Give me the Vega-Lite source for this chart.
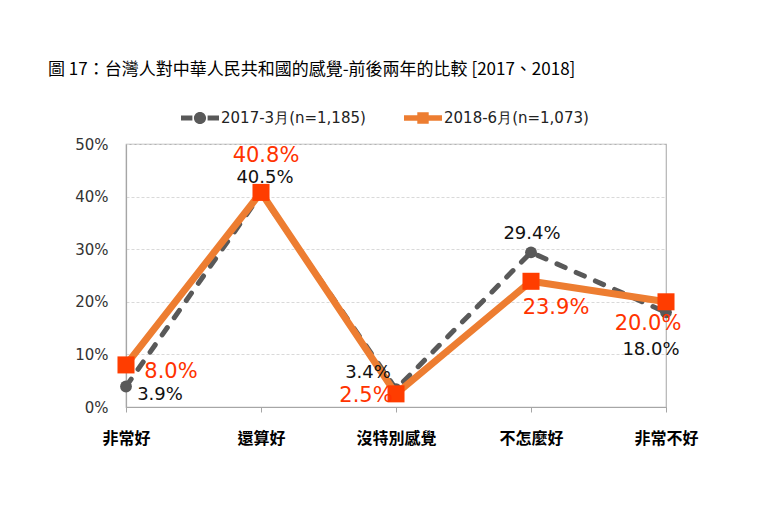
{
  "$schema": "https://vega.github.io/schema/vega-lite/v6.json",
  "width": 540,
  "height": 263,
  "autosize": {"type": "none"},
  "padding": {"left": 126, "top": 144, "right": 114, "bottom": 119},
  "background": "white",
  "title": {
    "text": "圖 17：台灣人對中華人民共和國的感覺-前後兩年的比較 [2017、2018]",
    "anchor": "start",
    "frame": "group",
    "orient": "top",
    "dx": -78,
    "offset": 20,
    "font": "Noto Sans CJK TC",
    "fontSize": 17,
    "fontWeight": "normal",
    "color": "#000000"
  },
  "config": {
    "font": "DejaVu Sans",
    "view": {"stroke": "#B4B4B4", "strokeWidth": 1.2}
  },
  "data": {
    "values": [
      {"cat": "非常好", "series": "2017-3月(n=1,185)", "year": 2017, "value": 0.039},
      {"cat": "還算好", "series": "2017-3月(n=1,185)", "year": 2017, "value": 0.405},
      {"cat": "沒特別感覺", "series": "2017-3月(n=1,185)", "year": 2017, "value": 0.034},
      {"cat": "不怎麼好", "series": "2017-3月(n=1,185)", "year": 2017, "value": 0.294},
      {"cat": "非常不好", "series": "2017-3月(n=1,185)", "year": 2017, "value": 0.18},
      {"cat": "非常好", "series": "2018-6月(n=1,073)", "year": 2018, "value": 0.08},
      {"cat": "還算好", "series": "2018-6月(n=1,073)", "year": 2018, "value": 0.408},
      {"cat": "沒特別感覺", "series": "2018-6月(n=1,073)", "year": 2018, "value": 0.025},
      {"cat": "不怎麼好", "series": "2018-6月(n=1,073)", "year": 2018, "value": 0.239},
      {"cat": "非常不好", "series": "2018-6月(n=1,073)", "year": 2018, "value": 0.2}
    ]
  },
  "encoding": {
    "x": {
      "field": "cat",
      "type": "ordinal",
      "sort": ["非常好", "還算好", "沒特別感覺", "不怎麼好", "非常不好"],
      "scale": {"type": "point", "padding": 0},
      "title": null,
      "axis": {
        "labelAngle": 0,
        "labelFont": "Noto Sans CJK TC",
        "labelFontSize": 16,
        "labelFontWeight": "bold",
        "labelColor": "#000000",
        "labelPadding": 18,
        "domainColor": "#A6A6A6",
        "domainWidth": 1.2,
        "tickColor": "#A6A6A6",
        "tickSize": 5,
        "grid": false
      }
    },
    "y": {
      "field": "value",
      "type": "quantitative",
      "scale": {"domain": [0, 0.5], "nice": false},
      "title": null,
      "axis": {
        "values": [0, 0.1, 0.2, 0.3, 0.4, 0.5],
        "format": ".0%",
        "labelFontSize": 15,
        "labelColor": "#333333",
        "labelPadding": 18,
        "ticks": false,
        "domainColor": "#A6A6A6",
        "domainWidth": 1.2,
        "gridColor": "#D9D9D9",
        "gridDash": [3, 2],
        "gridWidth": 1
      }
    }
  },
  "layer": [
    {
      "transform": [{"filter": "datum.year === 2017"}],
      "mark": {"type": "line", "strokeWidth": 5, "strokeDash": [9, 12], "strokeCap": "round"},
      "encoding": {
        "color": {
          "field": "series",
          "type": "nominal",
          "scale": {
            "domain": ["2017-3月(n=1,185)", "2018-6月(n=1,073)"],
            "range": ["#595959", "#ED7D31"]
          },
          "legend": {
            "title": null,
            "orient": "none",
            "legendX": 55,
            "legendY": -45,
            "direction": "horizontal",
            "columnPadding": 38,
            "symbolSize": 1444,
            "symbolStrokeWidth": 0,
            "labelFont": "DejaVu Sans",
            "labelFontSize": 15,
            "labelColor": "#222222",
            "labelOffset": 2,
            "labelLimit": 300,
            "encode": {
              "symbols": {
                "update": {
                  "shape": {"signal": "datum.value === '2017-3月(n=1,185)' ? 'M-1,-0.13H-0.4V0.13H-1Z M0.4,-0.13H1V0.13H0.4Z M-0.32,0A0.32,0.32 0 1,0 0.32,0A0.32,0.32 0 1,0 -0.32,0Z' : 'M-1,-0.15H1V0.15H-1Z M-0.3,-0.3H0.3V0.3H-0.3Z'"},
                  "fill": {"signal": "datum.value === '2017-3月(n=1,185)' ? '#595959' : '#ED7D31'"},
                  "fillOpacity": {"value": 1},
                  "strokeWidth": {"value": 0}
                }
              }
            }
          }
        }
      }
    },
    {
      "transform": [{"filter": "datum.year === 2017"}],
      "mark": {"type": "point", "shape": "circle", "filled": true, "opacity": 1, "color": "#595959", "size": 140},
      "encoding": {}
    },
    {
      "transform": [{"filter": "datum.year === 2018"}],
      "mark": {"type": "line", "strokeWidth": 7, "strokeCap": "butt"},
      "encoding": {
        "color": {"field": "series", "type": "nominal"}
      }
    },
    {
      "transform": [{"filter": "datum.year === 2018"}],
      "mark": {"type": "point", "shape": "square", "filled": true, "opacity": 1, "color": "#FF3D00", "size": 290},
      "encoding": {}
    },
    {
      "transform": [{"filter": "datum.year === 2017 && datum.cat === '非常好'"}],
      "mark": {"type": "text", "fontSize": 18, "color": "#111111", "dx": 34, "dy": 9},
      "encoding": {"text": {"field": "value", "type": "quantitative", "format": ".1%"}}
    },
    {
      "transform": [{"filter": "datum.year === 2017 && datum.cat === '還算好'"}],
      "mark": {"type": "text", "fontSize": 18, "color": "#111111", "dx": 4, "dy": -16},
      "encoding": {"text": {"field": "value", "type": "quantitative", "format": ".1%"}}
    },
    {
      "transform": [{"filter": "datum.year === 2017 && datum.cat === '沒特別感覺'"}],
      "mark": {"type": "text", "fontSize": 18, "color": "#111111", "dx": -28, "dy": -16},
      "encoding": {"text": {"field": "value", "type": "quantitative", "format": ".1%"}}
    },
    {
      "transform": [{"filter": "datum.year === 2017 && datum.cat === '不怎麼好'"}],
      "mark": {"type": "text", "fontSize": 18, "color": "#111111", "dx": 1, "dy": -18},
      "encoding": {"text": {"field": "value", "type": "quantitative", "format": ".1%"}}
    },
    {
      "transform": [{"filter": "datum.year === 2017 && datum.cat === '非常不好'"}],
      "mark": {"type": "text", "fontSize": 18, "color": "#111111", "dx": -15, "dy": 38},
      "encoding": {"text": {"field": "value", "type": "quantitative", "format": ".1%"}}
    },
    {
      "transform": [{"filter": "datum.year === 2018 && datum.cat === '非常好'"}],
      "mark": {"type": "text", "fontSize": 21, "color": "#FF3300", "dx": 45, "dy": 7},
      "encoding": {"text": {"field": "value", "type": "quantitative", "format": ".1%"}}
    },
    {
      "transform": [{"filter": "datum.year === 2018 && datum.cat === '還算好'"}],
      "mark": {"type": "text", "fontSize": 21, "color": "#FF3300", "dx": 5, "dy": -36},
      "encoding": {"text": {"field": "value", "type": "quantitative", "format": ".1%"}}
    },
    {
      "transform": [{"filter": "datum.year === 2018 && datum.cat === '沒特別感覺'"}],
      "mark": {"type": "text", "fontSize": 21, "color": "#FF3300", "dx": -30, "dy": 2},
      "encoding": {"text": {"field": "value", "type": "quantitative", "format": ".1%"}}
    },
    {
      "transform": [{"filter": "datum.year === 2018 && datum.cat === '不怎麼好'"}],
      "mark": {"type": "text", "fontSize": 21, "color": "#FF3300", "dx": 25, "dy": 27},
      "encoding": {"text": {"field": "value", "type": "quantitative", "format": ".1%"}}
    },
    {
      "transform": [{"filter": "datum.year === 2018 && datum.cat === '非常不好'"}],
      "mark": {"type": "text", "fontSize": 21, "color": "#FF3300", "dx": -18, "dy": 22},
      "encoding": {"text": {"field": "value", "type": "quantitative", "format": ".1%"}}
    }
  ]
}
